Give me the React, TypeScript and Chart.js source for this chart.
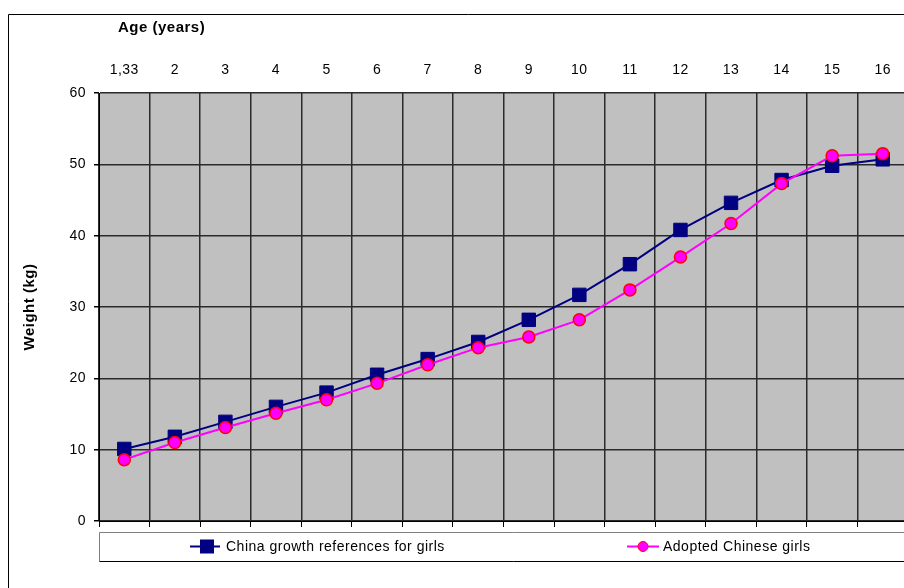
import { useEffect, useRef } from "react";
import { Chart, registerables } from "chart.js";

Chart.register(...registerables);

// Age categories (years)
const ageLabels = ["1,33", "2", "3", "4", "5", "6", "7", "8", "9", "10", "11", "12", "13", "14", "15", "16"];

// Mean weight (kg) per age
const chinaReference = [10.1, 11.8, 13.9, 16.0, 18.0, 20.5, 22.7, 25.1, 28.2, 31.7, 36.0, 40.8, 44.6, 47.8, 49.8, 50.7];
const adoptedGirls = [8.6, 11.0, 13.1, 15.1, 17.0, 19.3, 21.9, 24.3, 25.8, 28.2, 32.4, 37.0, 41.7, 47.3, 51.2, 51.5];

const seriesNames = ["China growth references for girls", "Adopted Chinese girls"];
const xTitle = "Age (years)";
const yTitle = "Weight (kg)";
const yMin = 0;
const yMax = 60;
const yStep = 10;

const FONT = "'Liberation Sans', Arial, sans-serif";
const NAVY = "#000080";
const MAGENTA = "#FF00FF";
const RED = "#FF0000";
const GRID = "#2a2a2a";

const chartDecor = {
  id: "chartDecor",
  beforeDraw(chart: any) {
    const { ctx, chartArea: a } = chart;
    ctx.save();
    ctx.fillStyle = "#C0C0C0";
    ctx.fillRect(a.left, a.top, a.right - a.left, a.bottom - a.top);
    ctx.restore();
    ctx.letterSpacing = "0.5px";
  },
  afterDraw(chart: any) {
    const { ctx, chartArea: a, width, height } = chart;
    ctx.save();

    // outer frame
    ctx.strokeStyle = "#000";
    ctx.lineWidth = 1;
    ctx.beginPath();
    ctx.moveTo(0.5, height);
    ctx.lineTo(0.5, 6.5);
    ctx.lineTo(width, 6.5);
    ctx.stroke();

    // category axis title
    ctx.font = `bold 15px ${FONT}`;
    ctx.fillStyle = "#000";
    ctx.textAlign = "left";
    ctx.textBaseline = "alphabetic";
    ctx.fillText(xTitle, 110, 24);

    // legend box
    const boxLeft = a.left + 0.5;
    const boxTop = 524.5;
    const boxBottom = 553.5;
    ctx.fillStyle = "#fff";
    ctx.fillRect(boxLeft, boxTop, width - boxLeft, boxBottom - boxTop);
    ctx.strokeStyle = "#808080";
    ctx.beginPath();
    ctx.moveTo(boxLeft, boxBottom);
    ctx.lineTo(boxLeft, boxTop);
    ctx.lineTo(width, boxTop);
    ctx.stroke();
    ctx.strokeStyle = "#000";
    ctx.beginPath();
    ctx.moveTo(boxLeft, boxBottom);
    ctx.lineTo(width, boxBottom);
    ctx.stroke();

    const cy = 538.5;
    // item 1: line with square marker
    ctx.strokeStyle = NAVY;
    ctx.lineWidth = 2;
    ctx.beginPath();
    ctx.moveTo(182, cy);
    ctx.lineTo(212, cy);
    ctx.stroke();
    ctx.fillStyle = NAVY;
    ctx.fillRect(199 - 7, cy - 7, 14, 14);

    // item 2: line with circle marker
    ctx.strokeStyle = MAGENTA;
    ctx.beginPath();
    ctx.moveTo(619, cy);
    ctx.lineTo(651, cy);
    ctx.stroke();
    ctx.beginPath();
    ctx.arc(635, cy, 5, 0, Math.PI * 2);
    ctx.fillStyle = MAGENTA;
    ctx.fill();
    ctx.lineWidth = 1;
    ctx.strokeStyle = RED;
    ctx.stroke();

    ctx.font = `14px ${FONT}`;
    ctx.fillStyle = "#000";
    ctx.textBaseline = "middle";
    ctx.fillText(seriesNames[0], 218, cy + 1);
    ctx.fillText(seriesNames[1], 655, cy + 1);

    ctx.restore();
  },
};

export default function App() {
  const canvasRef = useRef<HTMLCanvasElement | null>(null);

  useEffect(() => {
    if (!canvasRef.current) return;
    const chart = new Chart(canvasRef.current, {
      type: "line",
      data: {
        labels: ageLabels,
        datasets: [
          {
            label: seriesNames[0],
            data: chinaReference,
            borderColor: NAVY,
            backgroundColor: NAVY,
            borderWidth: 2,
            pointStyle: "rect",
            pointRadius: 9.5,
            pointBorderWidth: 1,
            pointBackgroundColor: NAVY,
            pointBorderColor: NAVY,
            tension: 0,
            order: 2,
          },
          {
            label: seriesNames[1],
            data: adoptedGirls,
            borderColor: MAGENTA,
            backgroundColor: MAGENTA,
            borderWidth: 2,
            pointStyle: "circle",
            pointRadius: 6,
            pointBorderWidth: 1.5,
            pointBackgroundColor: MAGENTA,
            pointBorderColor: RED,
            tension: 0,
            order: 1,
          },
        ],
      },
      options: {
        animation: false,
        responsive: false,
        layout: { padding: { left: 0, top: 0, right: 20, bottom: 61 } },
        plugins: {
          legend: { display: false },
          tooltip: { enabled: false },
        },
        scales: {
          x: {
            type: "category",
            position: "top",
            offset: true,
            grid: { offset: true, color: GRID, lineWidth: 1.5, drawTicks: false },
            border: { display: false },
            ticks: {
              color: "#000",
              font: { family: FONT, size: 14 },
              padding: 14,
              maxRotation: 0,
              autoSkip: false,
            },
            afterFit: (s: any) => {
              s.height = 85;
            },
          },
          x2: {
            type: "category",
            position: "bottom",
            offset: true,
            grid: {
              offset: true,
              drawOnChartArea: false,
              drawTicks: true,
              tickLength: 6,
              tickColor: "#000",
            },
            border: { display: true, color: "#000", width: 1 },
            ticks: { display: false },
            afterFit: (s: any) => {
              s.height = 6;
            },
          },
          y: {
            position: "left",
            min: yMin,
            max: yMax,
            ticks: {
              stepSize: yStep,
              color: "#000",
              font: { family: FONT, size: 14 },
              padding: 8,
            },
            grid: { color: GRID, lineWidth: 1.5, tickLength: 5, tickColor: "#000" },
            border: { display: true, color: "#000", width: 1 },
            title: {
              display: true,
              text: yTitle,
              color: "#000",
              font: { family: FONT, size: 15, weight: "bold" },
              padding: { top: 13, bottom: 0 },
            },
            afterFit: (s: any) => {
              s.width = 91;
            },
          },
        },
      } as any,
      plugins: [chartDecor],
    });
    return () => chart.destroy();
  }, []);

  return (
    <div
      style={{
        position: "fixed",
        left: 8,
        top: 8,
        width: 904,
        height: 580,
        overflow: "hidden",
      }}
    >
      <canvas ref={canvasRef} width={920} height={580} style={{ display: "block" }} />
    </div>
  );
}
